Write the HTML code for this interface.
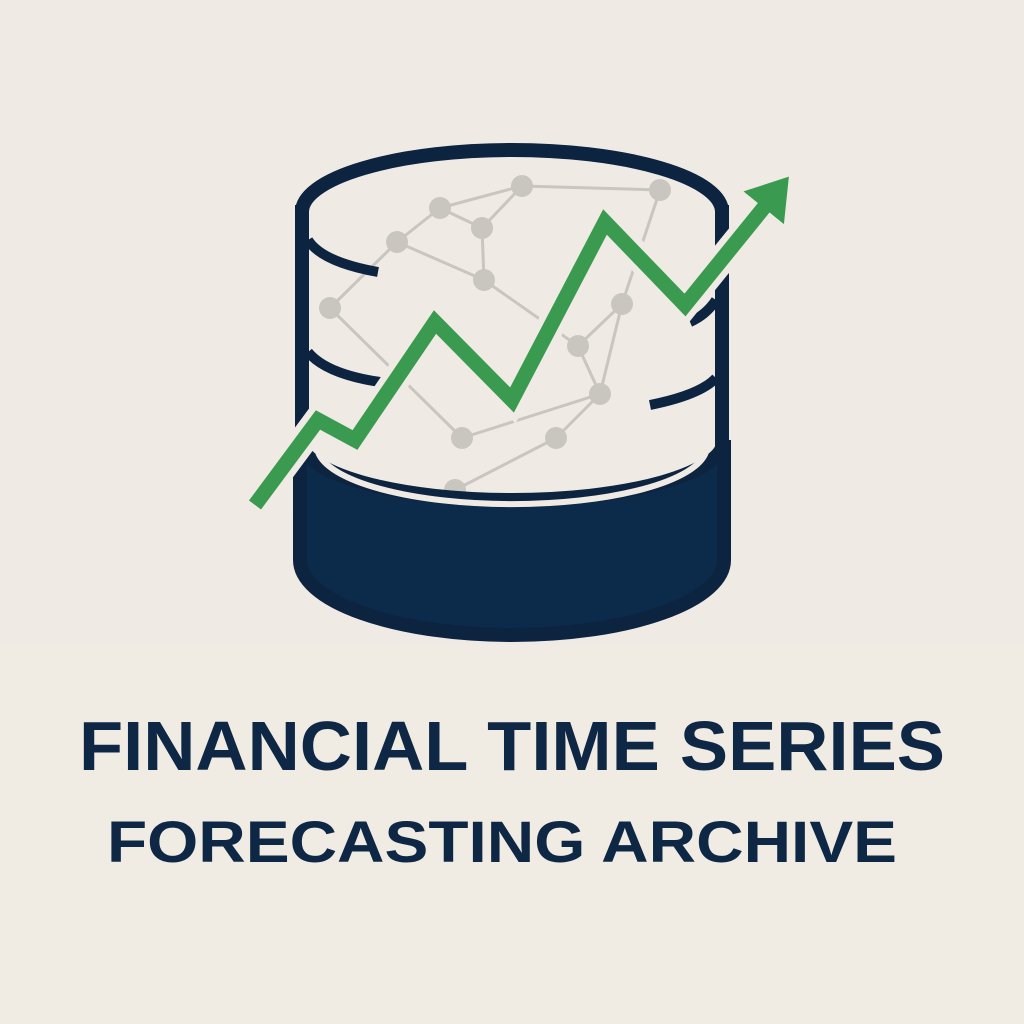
<!DOCTYPE html>
<html><head><meta charset="utf-8"><style>
html,body{margin:0;padding:0;background:#efebe4;}
svg{display:block;}
</style></head><body>
<svg width="1024" height="1024" viewBox="0 0 1024 1024">
<rect x="0" y="0" width="1024" height="1024" fill="#efebe4"/>
<rect x="0" y="645" width="1024" height="379" fill="#f1ece3"/>
<g id="network"></g>
<g fill="none" stroke="#0c2440" stroke-width="14">
  <path d="M300,440 A212,60 0 0 0 724,440 L724,560 A212,75 0 0 1 300,560 Z" fill="#0c2a4a" stroke="#0c2440"/>
  <path d="M318,452 A195,58 0 0 0 706,452" stroke="#efebe4" stroke-width="6"/>
  <path d="M302,212 A210,62 0 0 1 722,212"/>
  <path d="M302,205 L302,450"/>
  <path d="M722,205 L722,450"/>
  <path d="M308,240 Q322,262 378,272" stroke-width="10"/>
  <path d="M308,352 Q326,374 380,382" stroke-width="10"/>
  <path d="M716,300 Q706,315 690,322" stroke-width="10"/>
  <path d="M716,378 Q700,395 650,405" stroke-width="10"/>
</g>
<g id="trend"></g>
<text x="512" y="770" text-anchor="middle" font-family="Liberation Sans, sans-serif" font-weight="bold" font-size="70" fill="#0e2744" textLength="866" lengthAdjust="spacingAndGlyphs">FINANCIAL TIME SERIES</text>
<text x="502" y="862" text-anchor="middle" font-family="Liberation Sans, sans-serif" font-weight="bold" font-size="58" fill="#0e2744" textLength="790" lengthAdjust="spacingAndGlyphs">FORECASTING ARCHIVE</text>
</svg>
<script>
const NS='http://www.w3.org/2000/svg';
const nodeX=[440,522,397,482,484,330,578,622,600,462,556,455,660];
const nodeY=[208,186,242,228,280,308,346,304,394,438,438,490,190];
const links=[[0,1],[0,2],[0,3],[1,3],[2,5],[3,4],[4,6],[6,8],[7,6],[7,8],[8,9],[8,10],[10,11],[2,4],[5,9],[1,12],[7,12]];
const trendX=[255,318,355,435,512,605,685,770];
const trendY=[505,420,440,322,400,222,305,200];
const net=document.getElementById('network');
links.forEach(l=>{
  const ln=document.createElementNS(NS,'line');
  ln.setAttribute('x1',nodeX[l[0]]);ln.setAttribute('y1',nodeY[l[0]]);
  ln.setAttribute('x2',nodeX[l[1]]);ln.setAttribute('y2',nodeY[l[1]]);
  ln.setAttribute('stroke','#c9c6bf');ln.setAttribute('stroke-width','3');
  
  
  net.appendChild(ln);
});
nodeX.forEach((x,i)=>{
  const c=document.createElementNS(NS,'circle');
  c.setAttribute('cx',x);c.setAttribute('cy',nodeY[i]);c.setAttribute('r','11');
  c.setAttribute('fill','#c9c6bf');
  
  
  net.appendChild(c);
});
const tr=document.getElementById('trend');
const pts=trendX.map((x,i)=>x+','+trendY[i]).join(' ');
const bg=document.createElementNS(NS,'polyline');
bg.setAttribute('points',pts);bg.setAttribute('fill','none');bg.setAttribute('stroke','#efebe4');
bg.setAttribute('stroke-width','28');bg.setAttribute('stroke-linejoin','miter');


tr.appendChild(bg);
const pl=document.createElementNS(NS,'polyline');
pl.setAttribute('points',pts);pl.setAttribute('fill','none');pl.setAttribute('stroke','#3a9a50');
pl.setAttribute('stroke-width','15');pl.setAttribute('stroke-linejoin','miter');


tr.appendChild(pl);
const n=trendX.length;
const ex=trendX[n-1],ey=trendY[n-1];
const dx=ex-trendX[n-2],dy=ey-trendY[n-2],L=Math.hypot(dx,dy),ux=dx/L,uy=dy/L;
const tip=[ex+ux*30,ey+uy*30],b1=[ex-uy*26-ux*10,ey+ux*26-uy*10],b2=[ex+uy*26-ux*10,ey-ux*26-uy*10];
const head=document.createElementNS(NS,'polygon');
head.setAttribute('points',[tip,b1,b2].map(p=>p.join(',')).join(' '));
head.setAttribute('fill','#3a9a50');


tr.appendChild(head);
</script>
</body></html>
